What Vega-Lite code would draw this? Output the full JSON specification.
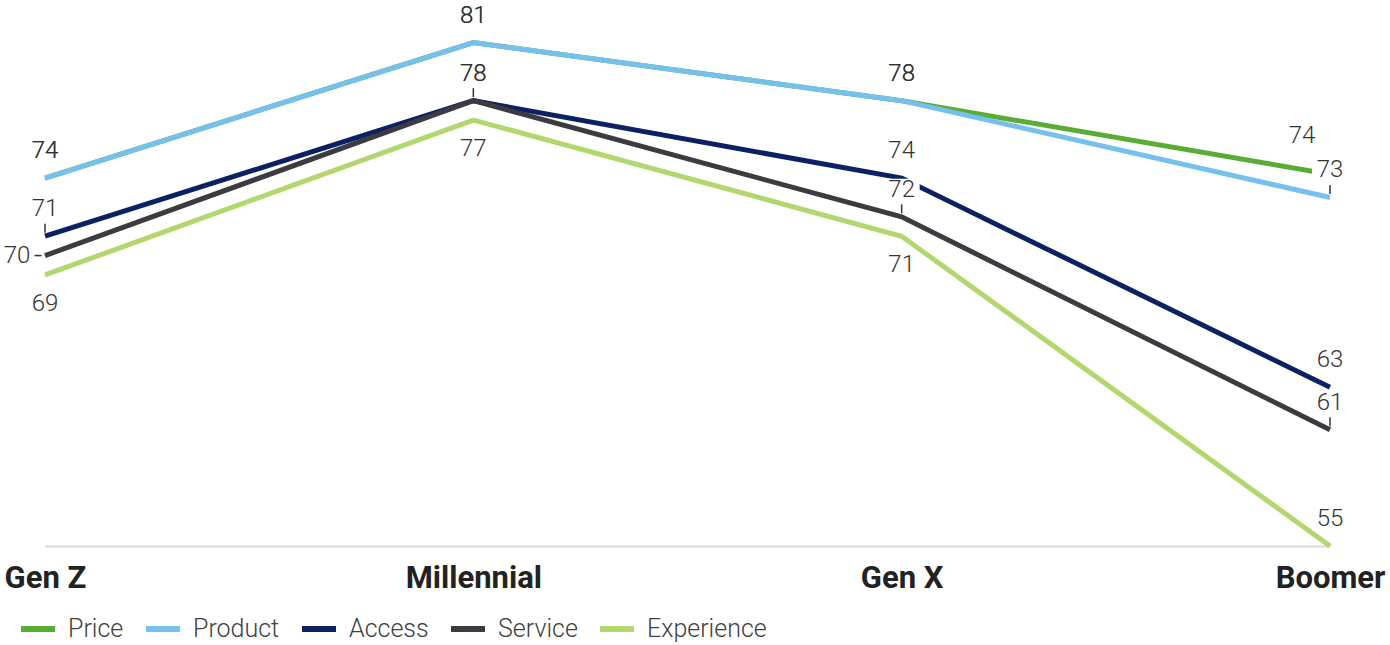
{
  "$schema": "https://vega.github.io/schema/vega-lite/v6.json",
  "autosize": "none",
  "width": 1285,
  "height": 546,
  "padding": {"left": 45, "top": 0, "right": 60, "bottom": 99},
  "background": "white",
  "config": {"view": {"stroke": null}, "font": "Roboto"},
  "data": {"values": [
    {"gen": "Gen Z", "series": "Price", "value": 74, "pos": "above", "leader": "none"},
    {"gen": "Millennial", "series": "Price", "value": 81, "pos": "above", "leader": "none"},
    {"gen": "Gen X", "series": "Price", "value": 78, "pos": "above", "leader": "none"},
    {"gen": "Boomer", "series": "Price", "value": 74.2, "pos": "aboveleft", "leader": "none"},
    {"gen": "Gen Z", "series": "Product", "value": 74, "pos": "above", "leader": "none"},
    {"gen": "Millennial", "series": "Product", "value": 81, "pos": "above", "leader": "none"},
    {"gen": "Gen X", "series": "Product", "value": 78, "pos": "above", "leader": "none"},
    {"gen": "Boomer", "series": "Product", "value": 73, "pos": "above", "leader": "v"},
    {"gen": "Gen Z", "series": "Access", "value": 71, "pos": "above", "leader": "v"},
    {"gen": "Millennial", "series": "Access", "value": 78, "pos": "above", "leader": "v"},
    {"gen": "Gen X", "series": "Access", "value": 74, "pos": "above", "leader": "none"},
    {"gen": "Boomer", "series": "Access", "value": 63.2, "pos": "above", "leader": "none"},
    {"gen": "Gen Z", "series": "Service", "value": 70, "pos": "left", "leader": "h"},
    {"gen": "Millennial", "series": "Service", "value": 78, "pos": "above", "leader": "none"},
    {"gen": "Gen X", "series": "Service", "value": 72, "pos": "above", "leader": "v"},
    {"gen": "Boomer", "series": "Service", "value": 61, "pos": "above", "leader": "v"},
    {"gen": "Gen Z", "series": "Experience", "value": 69, "pos": "below", "leader": "none"},
    {"gen": "Millennial", "series": "Experience", "value": 77, "pos": "below", "leader": "none"},
    {"gen": "Gen X", "series": "Experience", "value": 71, "pos": "below", "leader": "none"},
    {"gen": "Boomer", "series": "Experience", "value": 55, "pos": "above", "leader": "none"}
  ]},
  "encoding": {
    "x": {"field": "gen", "type": "ordinal", "sort": ["Gen Z", "Millennial", "Gen X", "Boomer"],
      "scale": {"type": "point", "padding": 0},
      "axis": {"title": null, "ticks": false, "labelAngle": 0, "labelFont": "Roboto", "labelFontSize": 31, "labelFontWeight": "bold", "labelColor": "#222222", "labelPadding": 17, "domainColor": "#d9d9d9", "domainWidth": 2, "grid": false}},
    "y": {"field": "value", "type": "quantitative", "scale": {"domain": [55, 83.2], "zero": false, "nice": false}, "axis": null}
  },
  "layer": [
    {
      "mark": {"type": "line", "strokeWidth": 5, "strokeCap": "butt", "strokeJoin": "miter"},
      "encoding": {
        "color": {"field": "series", "type": "nominal",
          "scale": {"domain": ["Price", "Product", "Access", "Service", "Experience"], "range": ["#5aad34", "#76c1ec", "#0b2163", "#3b3b41", "#b3d76f"]},
          "legend": {"title": null, "orient": "none", "direction": "horizontal", "legendX": -27, "legendY": 609, "symbolType": "stroke", "symbolSize": 1156, "symbolStrokeWidth": 6, "labelFont": "Roboto", "labelFontSize": 25, "labelFontWeight": 300, "labelColor": "#404040", "labelOffset": 10, "columnPadding": 10}}
      }
    },
    {
      "transform": [{"filter": "datum.pos === 'above'"}],
      "mark": {"type": "point", "shape": "M-1,-0.62H1V0.62H-1Z", "size": 1296, "filled": true, "color": "white", "opacity": 1, "strokeWidth": 0, "yOffset": -27}
    },
    {
      "transform": [{"filter": "datum.pos === 'below'"}],
      "mark": {"type": "point", "shape": "M-1,-0.62H1V0.62H-1Z", "size": 1296, "filled": true, "color": "white", "opacity": 1, "strokeWidth": 0, "yOffset": 29}
    },
    {
      "transform": [{"filter": "datum.pos === 'left'"}],
      "mark": {"type": "point", "shape": "M-1,-0.62H1V0.62H-1Z", "size": 1296, "filled": true, "color": "white", "opacity": 1, "strokeWidth": 0, "xOffset": -28}
    },
    {
      "transform": [{"filter": "datum.pos === 'aboveleft'"}],
      "mark": {"type": "point", "shape": "M-1,-0.62H1V0.62H-1Z", "size": 1296, "filled": true, "color": "white", "opacity": 1, "strokeWidth": 0, "xOffset": -28, "yOffset": -38}
    },
    {
      "transform": [{"filter": "datum.leader === 'v'"}],
      "mark": {"type": "tick", "orient": "vertical", "size": 9, "thickness": 1.5, "color": "#333333", "opacity": 1, "yOffset": -8}
    },
    {
      "transform": [{"filter": "datum.leader === 'h'"}],
      "mark": {"type": "tick", "orient": "horizontal", "size": 7, "thickness": 1.5, "color": "#333333", "opacity": 1, "xOffset": -7}
    },
    {
      "transform": [{"filter": "datum.pos === 'above'"}],
      "mark": {"type": "text", "dy": -27, "fontSize": 24, "fontWeight": 300, "color": "#333333"},
      "encoding": {"text": {"field": "value", "type": "quantitative", "format": ".0f"}}
    },
    {
      "transform": [{"filter": "datum.pos === 'below'"}],
      "mark": {"type": "text", "dy": 29, "fontSize": 24, "fontWeight": 300, "color": "#333333"},
      "encoding": {"text": {"field": "value", "type": "quantitative", "format": ".0f"}}
    },
    {
      "transform": [{"filter": "datum.pos === 'left'"}],
      "mark": {"type": "text", "dx": -28, "fontSize": 24, "fontWeight": 300, "color": "#333333"},
      "encoding": {"text": {"field": "value", "type": "quantitative", "format": ".0f"}}
    },
    {
      "transform": [{"filter": "datum.pos === 'aboveleft'"}],
      "mark": {"type": "text", "dx": -28, "dy": -38, "fontSize": 24, "fontWeight": 300, "color": "#333333"},
      "encoding": {"text": {"field": "value", "type": "quantitative", "format": ".0f"}}
    }
  ]
}
